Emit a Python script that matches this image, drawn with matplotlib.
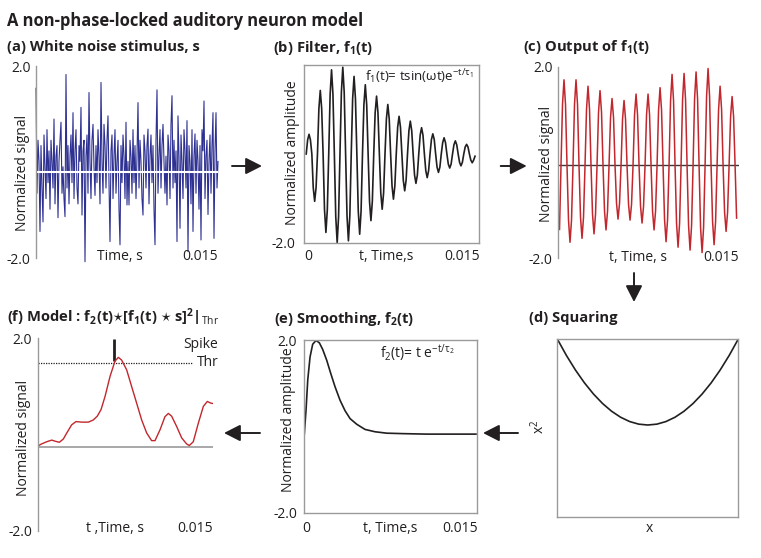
import numpy as np
import matplotlib
matplotlib.use('Agg')
import matplotlib.pyplot as plt
from matplotlib.patches import FancyArrowPatch

plt.rcParams['font.family'] = ['Open Sans', 'DejaVu Sans']
plt.rcParams['mathtext.fontset'] = 'custom'
plt.rcParams['mathtext.rm'] = 'Open Sans'
plt.rcParams['mathtext.it'] = 'Open Sans:italic'
plt.rcParams['mathtext.bf'] = 'Open Sans:bold'
plt.rcParams['mathtext.fallback'] = 'stixsans'

# ---------------- data ----------------
# (a) white noise stimulus, normalized
noise_a = [1.58, -0.4, 0.6, 0.2, -1.12, 0.5, -0.3, -0.94, 0.7, 0.1,
           -0.5, 0.8, -0.2, 0.4, -0.7, 0.6, 0.2, -0.3, 1.0, -0.6,
           0.3, 0.5, -0.86, 0.2, 0.6, 0.94, -0.4, 0.1, -0.5, -0.84,
           1.84, -0.3, 0.5, -0.6, 0.3, 0.7, -0.2, 1.12, -0.5, 0.4,
           0.8, -0.3, -0.6, 0.5, 0.2, 1.22, -0.81, 0.4, 0.6, -1.69,
           0.3, 0.7, -0.4, 1.5, 0.2, -0.5, 0.6, 0.9, 0.1, -0.44,
           0.5, -0.2, 0.8, 0.3, -0.6, 1.69, 0.2, -0.4, 0.9, 0.5,
           -0.3, 0.6, 1.06, -0.2, -1.31, 0.4, 0.7, -0.5, 0.3, 0.8,
           -0.4, 0.2, 0.6, -0.7, -1.37, 0.5, -0.2, 0.7, 0.3, -0.5,
           0.94, -0.62, 0.2, -0.62, 0.6, 0.3, -0.4, 0.8, -0.2, 0.5,
           -0.5, 0.3, 1.31, -0.3, 0.6, 0.2, -0.5, -0.81, 0.7, 0.4,
           -0.3, 0.5, 0.81, -0.6, 0.3, 0.7, -0.2, 0.5, -0.7, -1.37,
           0.6, 1.55, -0.4, 0.3, 0.8, -0.3, 0.5, 0.9, 0.2, -0.4,
           0.3, -0.62, 0.7, 0.4, -0.5, 0.9, 1.44, -0.3, 0.6, -0.2,
           0.4, -1.31, 1.06, 0.3, -1.06, 0.7, 0.2, -0.5, 0.8, 0.4,
           -0.3, 0.97, -1.5, 0.5, 0.2, -0.6, 0.8, -1.12, 0.3, 0.72,
           -0.4, 0.6, 0.2, -0.7, 0.5, -1.28, 0.8, 0.4, 1.34, -0.5,
           0.3, 0.6, -0.8, 0.2, 0.7, -0.4, 0.5, 1.12, -1.25, 0.4,
           1.12, -0.3, 0.2]
t_a = np.linspace(0.0, 0.015, len(noise_a))

# (b) filter f1(t), sampled every 1/8 cycle
filter_b = [0, 0.32, 0.45, 0.32, 0, -0.77, -1.08, -0.77,
            0, 1.03, 1.45, 1.03, 0, -1.27, -1.79, -1.27,
            0, 1.36, 1.92, 1.36, 0, -1.43, -2.02, -1.43,
            0, 1.41, 1.98, 1.41, 0, -1.41, -1.98, -1.41,
            0, 1.26, 1.77, 1.26, 0, -1.30, -1.83, -1.30,
            0, 1.12, 1.58, 1.12, 0, -1.08, -1.52, -1.08,
            0, 0.94, 1.32, 0.94, 0, -0.89, -1.26, -0.89,
            0, 0.80, 1.13, 0.80, 0, -0.73, -1.03, -0.73,
            0, 0.61, 0.86, 0.61, 0, -0.60, -0.84, -0.60,
            0, 0.53, 0.75, 0.53, 0, -0.48, -0.67, -0.48,
            0, 0.43, 0.60, 0.43, 0, -0.38, -0.54, -0.38,
            0, 0.33, 0.46, 0.33, 0, -0.30, -0.42, -0.30,
            0, 0.26, 0.37, 0.26, 0, -0.23, -0.32, -0.23,
            0, 0.21, 0.30, 0.21, 0, -0.19, -0.27, -0.19,
            0, 0.16, 0.22, 0.16, 0, -0.14, -0.20, -0.14,
            -0.05]
t_b = np.linspace(0.00019, 0.01466, len(filter_b))

# (c) output of f1(t), sampled every 1/8 cycle
output_c = [-1.30, 0, 1.24, 1.74, 1.24, 0, -1.11, -1.56,
            -1.11, 0, 1.24, 1.74, 1.24, 0, -1.05, -1.48,
            -1.05, 0, 1.14, 1.61, 1.14, 0, -0.99, -1.39,
            -0.99, 0, 1.08, 1.52, 1.08, 0, -0.93, -1.31,
            -0.93, 0, 0.97, 1.36, 0.97, 0, -0.77, -1.09,
            -0.77, 0, 0.94, 1.32, 0.94, 0, -0.79, -1.11,
            -0.79, 0, 1.03, 1.45, 1.03, 0, -0.83, -1.17,
            -0.83, 0, 1.03, 1.45, 1.03, 0, -0.93, -1.31,
            -0.93, 0, 1.12, 1.58, 1.12, 0, -1.10, -1.55,
            -1.10, 0, 1.31, 1.85, 1.31, 0, -1.18, -1.66,
            -1.18, 0, 1.33, 1.87, 1.33, 0, -1.22, -1.72,
            -1.22, 0, 1.35, 1.90, 1.35, 0, -1.26, -1.77,
            -1.26, 0, 1.40, 1.97, 1.40, 0, -1.14, -1.61,
            -1.14, 0, 1.14, 1.61, 1.14, 0, -0.95, -1.34,
            -0.95, 0, 0.99, 1.40, 0.99, 0, -1.07]
t_c = np.linspace(0.0001, 0.0148, len(output_c))

# (d) squaring
x_d = [-1.0, -0.9, -0.8, -0.7, -0.6, -0.5, -0.4, -0.3, -0.2, -0.1, 0.0,
       0.1, 0.2, 0.3, 0.4, 0.5, 0.6, 0.7, 0.8, 0.9, 1.0]
sq_d = [1.0, 0.81, 0.64, 0.49, 0.36, 0.25, 0.16, 0.09, 0.04, 0.01, 0.0,
        0.01, 0.04, 0.09, 0.16, 0.25, 0.36, 0.49, 0.64, 0.81, 1.0]

# (e) smoothing kernel f2(t)
t_e = [0, 0.00015, 0.0003, 0.0005, 0.00073, 0.00102, 0.00131, 0.0016,
       0.00195, 0.0023, 0.00267, 0.00311, 0.00354, 0.00398, 0.00456,
       0.00528, 0.00615, 0.00717, 0.00861, 0.01065, 0.01494]
smooth_e = [0, 0.51, 1.15, 1.64, 1.91, 1.99, 1.94, 1.80, 1.57, 1.29, 1.01,
            0.72, 0.50, 0.33, 0.21, 0.10, 0.05, 0.02, 0.01, 0, 0]

# (f) model output
t_f = [0, 0.00034, 0.00077, 0.0012, 0.00148, 0.00185, 0.00219, 0.00248,
       0.0029, 0.00327, 0.00376, 0.00433, 0.00475, 0.00509, 0.00541,
       0.00575, 0.00618, 0.0066, 0.00689, 0.00717, 0.0076, 0.00803,
       0.00845, 0.00888, 0.00931, 0.00973, 0.01002, 0.01045, 0.01087,
       0.01116, 0.01144, 0.01187, 0.0123, 0.01272, 0.01295, 0.01329,
       0.01372, 0.01415, 0.01449, 0.01477, 0.015]
model_f = [0.02, 0.06, 0.10, 0.13, 0.11, 0.09, 0.15, 0.26, 0.41, 0.47,
           0.46, 0.46, 0.50, 0.57, 0.69, 0.93, 1.30, 1.58, 1.65, 1.60,
           1.42, 1.11, 0.81, 0.50, 0.26, 0.12, 0.12, 0.32, 0.56, 0.62,
           0.57, 0.38, 0.17, 0.06, 0.03, 0.10, 0.44, 0.75, 0.84, 0.81,
           0.80]
threshold_f = 1.54
spike_t = 0.00655
spike_range = (1.58, 1.99)
thr_end_t = 0.01315

# ---------------- figure ----------------
W, H = 761, 558
fig = plt.figure(figsize=(W / 100, H / 100), dpi=100)

GRAY = '#9a9a9a'
BLUE = '#2e3192'
RED = '#c1272d'
BLACK = '#231f20'
FS = 10
TFS = 10.6


def rect(l, t, r, b):
    return [l / W, 1 - b / H, (r - l) / W, (b - t) / H]


def ptxt(x, y, s, ha='center', va='center', **kw):
    kw.setdefault('fontsize', FS)
    kw.setdefault('color', BLACK)
    return fig.text(x / W, 1 - y / H, s, ha=ha, va=va, **kw)


def style(ax, ylim, box=False, pad=4):
    ax.set_xlim(0, 0.015)
    ax.set_ylim(*ylim)
    for k, sp in ax.spines.items():
        sp.set_color(GRAY)
        sp.set_linewidth(1.0)
        if not box and k != 'left':
            sp.set_visible(False)
    ax.set_xticks([])
    ax.set_yticks([2.0 if ylim[1] >= 2.0 else ylim[1], ylim[0]])
    ax.set_yticklabels(['2.0', '-2.0'])
    ax.tick_params(axis='y', length=0, pad=pad, labelsize=FS, labelcolor=BLACK)
    ax.patch.set_alpha(0)


def arrow(x0, y0, x1, y1):
    fig.add_artist(FancyArrowPatch((x0 / W, 1 - y0 / H), (x1 / W, 1 - y1 / H),
                                   transform=fig.transFigure,
                                   arrowstyle='-|>,head_length=0.55,head_width=0.28',
                                   mutation_scale=18, lw=1.4, color=BLACK,
                                   shrinkA=0, shrinkB=0))


ptxt(7, 25.7, 'A non-phase-locked auditory neuron model', ha='left', va='baseline',
     fontsize=11.9, fontweight='bold')

# (a)
ax = fig.add_axes(rect(36, 66, 218, 258))
style(ax, (-1.62, 2.0))
ax.plot(t_a, noise_a, color=BLUE, lw=0.8, clip_on=False)
ax.axhline(0, color='white', lw=1.5)
ptxt(7, 47, '(a) White noise stimulus, s', ha='left', fontweight='bold', fontsize=TFS)
ptxt(22.7, 172.5, 'Normalized signal', rotation=90)
ptxt(120, 256, 'Time, s')
ptxt(218, 256, '0.015', ha='right')

# (b)
ax = fig.add_axes(rect(304, 65, 479, 243))
style(ax, (-2.03, 2.03), box=True, pad=6)
ax.set_yticks([2.03, -2.03])
ax.plot(t_b, filter_b, color=BLACK, lw=1.2)
ptxt(273, 48, r'(b) Filter, f$\mathbf{_1}$(t)', ha='left', fontweight='bold', fontsize=TFS)
ptxt(292.7, 153, 'Normalized amplitude', rotation=90)
ptxt(365, 77, r'f$_1$(t)= tsin(ωt)e$^{\mathrm{-t/\tau_1}}$', ha='left', fontsize=9.6)
ptxt(308, 257, '0')
ptxt(385.7, 257, 't, Time,s')
ptxt(480, 257, '0.015', ha='right')

# (c)
ax = fig.add_axes(rect(558.3, 67, 739, 258))
style(ax, (-1.88, 2.0))
ax.axhline(0, color='#3a3a3a', lw=1.0, zorder=1)
ax.plot(t_c, output_c, color=RED, lw=1.1, zorder=2)
ptxt(523, 47, r'(c) Output of f$\mathbf{_1}$(t)', ha='left', fontweight='bold', fontsize=TFS)
ptxt(546, 164, 'Normalized signal', rotation=90)
ptxt(638, 257.7, 't, Time, s')
ptxt(739.3, 257.7, '0.015', ha='right')

# (d)
ax = fig.add_axes(rect(557.3, 339, 738.3, 516.7))
for sp in ax.spines.values():
    sp.set_color(GRAY)
    sp.set_linewidth(1.0)
ax.set_xlim(-1, 1)
ax.set_ylim(-1.066, 1.0)
ax.set_xticks([])
ax.set_yticks([])
ax.plot(x_d, sq_d, color=BLACK, lw=1.2)
ptxt(529, 318, '(d) Squaring', ha='left', fontweight='bold', fontsize=TFS)
ptxt(539, 427, r'x$^2$', rotation=90)
ptxt(649, 528, 'x')

# (e)
ax = fig.add_axes(rect(304.3, 340, 476.7, 512.7))
style(ax, (-1.67, 2.0), box=True, pad=5)
ax.plot(t_e, smooth_e, color=BLACK, lw=1.2)
ptxt(274, 319, r'(e) Smoothing, f$\mathbf{_2}$(t)', ha='left', fontweight='bold', fontsize=TFS)
ptxt(289, 420, 'Normalized amplitude', rotation=90)
ptxt(380, 353, r'f$_2$(t)= t e$^{\mathrm{-t/\tau_2}}$', ha='left', fontsize=10)
ptxt(306.7, 529, '0')
ptxt(390, 529, 't, Time,s')
ptxt(478.3, 529, '0.015', ha='right')

# (f)
ax = fig.add_axes(rect(37.7, 338.3, 213.3, 531))
style(ax, (-1.54, 2.0))
ax.axhline(0, color=GRAY, lw=1.2, zorder=1)
ax.hlines(threshold_f, 0, thr_end_t, colors=BLACK, linestyles=(0, (1, 1)), lw=0.9)
ax.vlines(spike_t, spike_range[0], spike_range[1], colors=BLACK, lw=2.0)
ax.plot(t_f, model_f, color=RED, lw=1.0, zorder=2)
ptxt(7, 317, r'(f) Model : f$\mathbf{_2}$(t)$\star$[f$\mathbf{_1}$(t) $\star$ s]$\mathbf{^2}$|$_\mathrm{Thr}$',
     ha='left', fontweight='bold', fontsize=TFS)
ptxt(23.3, 437.5, 'Normalized signal', rotation=90)
ptxt(218, 345, 'Spike', ha='right')
ptxt(218.3, 362.7, 'Thr', ha='right')
ptxt(114.7, 529, 't ,Time, s')
ptxt(213, 529, '0.015', ha='right')

# arrows
arrow(232, 166, 262, 166)
arrow(500.7, 166, 526.7, 166)
arrow(634, 273, 634, 302)
arrow(518, 433, 483, 433)
arrow(260, 433, 224, 433)

fig.savefig('out.png', dpi=100)
